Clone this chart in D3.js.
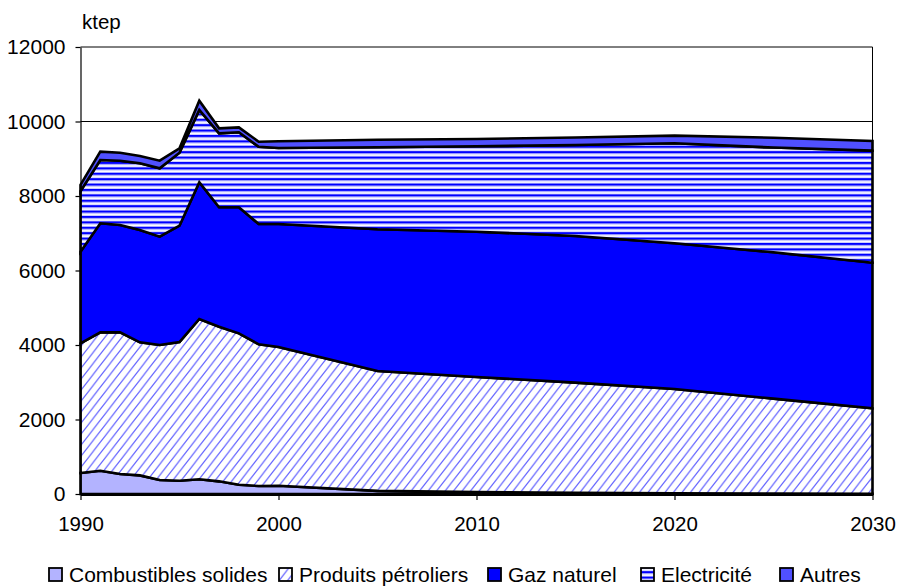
<!DOCTYPE html>
<html>
<head>
<meta charset="utf-8">
<script src="https://cdn.jsdelivr.net/npm/d3@7"></script>
<style>
  body { margin: 0; background: #fff; }
  svg { display: block; }
  text { font-family: "Liberation Sans", Arial, Helvetica, sans-serif; fill: #000; }
</style>
</head>
<body>
<svg id="chart" width="897" height="588"></svg>
<script>
// Final energy consumption by fuel, ktep
const years = [1990, 1991, 1992, 1993, 1994, 1995, 1996, 1997, 1998, 1999, 2000, 2005, 2010, 2015, 2020, 2025, 2030];
const seriesNames = ["Combustibles solides", "Produits pétroliers", "Gaz naturel", "Electricité", "Autres"];
const solides     = [564, 625, 537, 500, 376, 357, 394, 340, 250, 215, 220, 85, 50, 30, 20, 12, 8];
const petroliers  = [3482, 3715, 3803, 3572, 3624, 3723, 4304, 4152, 4063, 3803, 3725, 3217, 3090, 2960, 2798, 2548, 2292];
const gaz         = [2459, 2927, 2881, 3015, 2908, 3123, 3670, 3205, 3384, 3230, 3303, 3804, 3902, 3936, 3912, 3928, 3910];
const electricite = [1625, 1699, 1727, 1790, 1835, 1960, 1941, 1986, 2013, 2072, 2042, 2204, 2293, 2444, 2685, 2812, 3007];
const autres      = [170, 224, 215, 197, 205, 117, 249, 134, 133, 138, 178, 200, 195, 200, 205, 265, 260];
const yTicks = [0, 2000, 4000, 6000, 8000, 10000, 12000];
const xTicks = [1990, 2000, 2010, 2020, 2030];
const unitLabel = "ktep";

const seriesValues = [solides, petroliers, gaz, electricite, autres];
const rows = years.map((yr, i) => {
  const r = { year: yr };
  seriesNames.forEach((n, k) => { r[n] = seriesValues[k][i]; });
  return r;
});

const svg = d3.select("#chart");
const margin = { left: 80.5, right: 897 - 872.5, top: 47, bottom: 588 - 494 };
const x = d3.scaleLinear().domain([1990, 2030]).range([margin.left, 897 - margin.right]);
const y = d3.scaleLinear().domain([0, 12000]).range([588 - margin.bottom, margin.top]);

// fill patterns
const defs = svg.append("defs");
const hatch = defs.append("pattern")
  .attr("id", "hatch").attr("patternUnits", "userSpaceOnUse")
  .attr("width", 8.5).attr("height", 11);
hatch.append("rect").attr("width", 8.5).attr("height", 11).attr("fill", "#fff");
hatch.append("path")
  .attr("d", "M-2.125,2.75L2.125,-2.75M0,11L8.5,0M6.375,13.75L10.625,8.25")
  .attr("stroke", "#6464ff").attr("stroke-width", 1.2);

const stripes = defs.append("pattern")
  .attr("id", "stripes").attr("patternUnits", "userSpaceOnUse")
  .attr("width", 8).attr("height", 5.4);
stripes.append("rect").attr("width", 8).attr("height", 5.4).attr("fill", "#fff");
stripes.append("rect").attr("y", 0).attr("width", 8).attr("height", 2.2).attr("fill", "#0000ff");
stripes.append("rect").attr("y", 2.2).attr("width", 8).attr("height", 0.8).attr("fill", "#9a9aff");
stripes.append("rect").attr("y", 4.6).attr("width", 8).attr("height", 0.8).attr("fill", "#c4c4ff");

const fills = ["#b3b3ff", "url(#hatch)", "#0000ff", "url(#stripes)", "#5050ff"];

// gridlines and plot frame
svg.append("g").selectAll("line").data(yTicks).join("line")
  .attr("x1", x(1990)).attr("x2", x(2030))
  .attr("y1", d => y(d)).attr("y2", d => y(d))
  .attr("stroke", "#000").attr("stroke-width", 1);
svg.append("line")
  .attr("x1", x(2030)).attr("x2", x(2030)).attr("y1", y(12000)).attr("y2", y(0))
  .attr("stroke", "#000").attr("stroke-width", 1);

// stacked areas
const stack = d3.stack().keys(seriesNames);
const layers = stack(rows);
const area = d3.area()
  .x(d => x(d.data.year))
  .y0(d => y(d[0]))
  .y1(d => y(d[1]));

svg.append("g").selectAll("path").data(layers).join("path")
  .attr("d", area)
  .attr("fill", (d, i) => fills[i])
  .attr("stroke", "#000")
  .attr("stroke-width", 2.6)
  .attr("stroke-linejoin", "miter");

// axes
const yAxis = svg.append("g")
  .attr("transform", `translate(${x(1990)},0)`)
  .call(d3.axisLeft(y).tickValues(yTicks).tickSize(5).tickSizeOuter(0).tickPadding(10).tickFormat(d3.format("d")));
yAxis.select(".domain").attr("stroke", "#000").attr("stroke-width", 1.2);
yAxis.selectAll(".tick line").attr("stroke", "#000").attr("stroke-width", 1.2);
yAxis.selectAll("text").attr("font-size", "21px").attr("font-family", null);

const xAxis = svg.append("g")
  .attr("transform", `translate(0,${y(0)})`)
  .call(d3.axisBottom(x).tickValues(xTicks).tickSize(6).tickSizeOuter(0).tickPadding(16).tickFormat(d3.format("d")));
xAxis.select(".domain").attr("stroke", "#000").attr("stroke-width", 2.8);
xAxis.selectAll(".tick line").attr("stroke", "#000").attr("stroke-width", 1.2);
xAxis.selectAll("text").attr("font-size", "20.5px").attr("font-family", null);

svg.append("text")
  .attr("x", 82).attr("y", 29)
  .attr("font-size", "20.5px")
  .text(unitLabel);

// legend: one swatch + label per series along the bottom
const legendX = [48, 278, 487, 640, 779];
const legend = svg.append("g").attr("transform", "translate(0,582)");
seriesNames.forEach((name, i) => {
  const g = legend.append("g").attr("transform", `translate(${legendX[i]},0)`);
  g.append("rect")
    .attr("x", 1).attr("y", -14).attr("width", 13).attr("height", 13)
    .attr("fill", fills[i]).attr("stroke", "#000").attr("stroke-width", 1.8);
  g.append("text").attr("x", 21).attr("y", 0)
    .attr("font-size", "21px").text(name);
});
</script>
</body>
</html>
